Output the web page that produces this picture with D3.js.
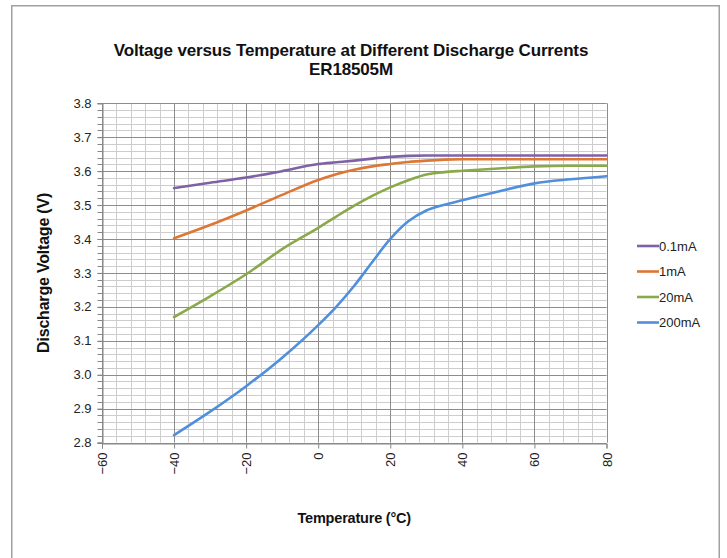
<!DOCTYPE html>
<html><head><meta charset="utf-8">
<script src="https://cdn.jsdelivr.net/npm/d3@7/dist/d3.min.js"></script>
<style>body{margin:0;background:#fff}svg{display:block}</style>
</head><body>
<script>
const titleLines = ["Voltage versus Temperature at Different Discharge Currents", "ER18505M"];
const xLabel = "Temperature (°C)";
const yLabel = "Discharge Voltage (V)";
const temps = [-40, -30, -20, -10, 0, 5, 10, 15, 20, 25, 30, 35, 40, 50, 60, 70, 80];
const seriesNames = ["0.1mA", "1mA", "20mA", "200mA"];
const v01  = [3.550, 3.566, 3.581, 3.600, 3.621, 3.626, 3.631, 3.637, 3.642, 3.645, 3.646, 3.646, 3.646, 3.646, 3.646, 3.646, 3.646];
const v1   = [3.402, 3.441, 3.484, 3.530, 3.574, 3.591, 3.604, 3.614, 3.621, 3.627, 3.631, 3.634, 3.635, 3.635, 3.635, 3.635, 3.635];
const v20  = [3.170, 3.231, 3.296, 3.370, 3.433, 3.466, 3.498, 3.527, 3.552, 3.573, 3.590, 3.597, 3.601, 3.608, 3.614, 3.616, 3.616];
const v200 = [2.822, 2.891, 2.966, 3.050, 3.146, 3.200, 3.262, 3.332, 3.400, 3.452, 3.484, 3.501, 3.514, 3.540, 3.564, 3.576, 3.585];
const xTicks = [-60, -40, -20, 0, 20, 40, 60, 80];
const yTicks = [2.8, 2.9, 3.0, 3.1, 3.2, 3.3, 3.4, 3.5, 3.6, 3.7, 3.8];
const colors = ["#7f62a6", "#dd7734", "#8aaa4a", "#4f8fdb"];

const W = 727, H = 558;
const svg = d3.select("body").append("svg").attr("width", W).attr("height", H);
const font = "'Liberation Sans', Arial, sans-serif";

svg.append("rect").attr("x", 11.75).attr("y", 5.75).attr("width", 707.5).attr("height", 560)
  .attr("fill", "#fff").attr("stroke", "#a0a0a0").attr("stroke-width", 1.5);

const x = d3.scaleLinear().domain([-60, 80]).range([102, 606.5]);
const y = d3.scaleLinear().domain([2.8, 3.8]).range([442.5, 103.3]);

const g = svg.append("g");
const xMinor = d3.range(-60, 80.001, 4);
const yMinor = d3.range(0, 51).map(i => 2.8 + i * 0.02);
g.append("g").selectAll("line").data(xMinor).join("line")
  .attr("x1", d => Math.round(x(d)) + 0.5).attr("x2", d => Math.round(x(d)) + 0.5)
  .attr("y1", y(3.8)).attr("y2", y(2.8)).attr("stroke", "#cdcdcd").attr("stroke-width", 1);
g.append("g").selectAll("line").data(yMinor).join("line")
  .attr("y1", d => Math.round(y(d)) + 0.5).attr("y2", d => Math.round(y(d)) + 0.5)
  .attr("x1", x(-60)).attr("x2", x(80)).attr("stroke", "#cdcdcd").attr("stroke-width", 1);
g.append("g").selectAll("line").data(xTicks).join("line")
  .attr("x1", d => Math.round(x(d)) + 0.5).attr("x2", d => Math.round(x(d)) + 0.5)
  .attr("y1", y(3.8)).attr("y2", y(2.8)).attr("stroke", "#8c8c8c").attr("stroke-width", 1);
g.append("g").selectAll("line").data(yTicks).join("line")
  .attr("y1", d => Math.round(y(d)) + 0.5).attr("y2", d => Math.round(y(d)) + 0.5)
  .attr("x1", x(-60)).attr("x2", x(80)).attr("stroke", "#8c8c8c").attr("stroke-width", 1);

const yAxis = svg.append("g").attr("transform", `translate(${Math.round(x(-60)) + 0.5},0)`)
  .call(d3.axisLeft(y).tickValues(yTicks).tickFormat(d3.format(".1f")).tickSize(5).tickPadding(6));
yAxis.append("g").selectAll("line").data(yMinor).join("line")
  .attr("x1", -5).attr("x2", 0).attr("y1", d => Math.round(y(d)) + 0.5).attr("y2", d => Math.round(y(d)) + 0.5)
  .attr("stroke", "#868686");
yAxis.selectAll(".domain").attr("stroke", "#868686");
yAxis.selectAll(".tick line").attr("stroke", "#868686");
yAxis.selectAll(".tick text").attr("font-family", font).attr("font-size", 13).attr("fill", "#222");

const xAxis = svg.append("g").attr("transform", `translate(0,${Math.round(y(2.8)) + 0.5})`)
  .call(d3.axisBottom(x).tickValues(xTicks).tickSize(5).tickFormat(d3.format("d")));
xAxis.selectAll(".domain").attr("stroke", "#868686");
xAxis.selectAll(".tick line").attr("stroke", "#868686");
xAxis.selectAll(".tick text").attr("font-family", font).attr("font-size", 13).attr("fill", "#222")
  .attr("transform", "rotate(-90)").attr("text-anchor", "end").attr("x", -9).attr("y", 0).attr("dy", "0.35em");

const allSeries = [v01, v1, v20, v200];
const line = d3.line().x((d, i) => x(temps[i])).y(d => y(d)).curve(d3.curveMonotoneX);
svg.append("g").selectAll("path").data(allSeries).join("path")
  .attr("d", d => line(d)).attr("fill", "none")
  .attr("stroke", (d, i) => colors[i]).attr("stroke-width", 2.6).attr("stroke-linecap", "round");

svg.append("g").selectAll("text").data(titleLines).join("text")
  .attr("x", 351).attr("y", (d, i) => 56 + i * 19).attr("text-anchor", "middle")
  .attr("font-family", font).attr("font-weight", "bold").attr("font-size", 17)
  .attr("fill", "#111").attr("letter-spacing", -0.15).text(d => d);

svg.append("text").attr("transform", `translate(49,${(y(3.8) + y(2.8)) / 2}) rotate(-90)`)
  .attr("text-anchor", "middle").attr("font-family", font).attr("font-weight", "bold").attr("font-size", 16)
  .attr("fill", "#111").attr("letter-spacing", -0.2).text(yLabel);
svg.append("text").attr("x", (x(-60) + x(80)) / 2).attr("y", 523)
  .attr("text-anchor", "middle").attr("font-family", font).attr("font-weight", "bold").attr("font-size", 14.5)
  .attr("fill", "#111").attr("letter-spacing", -0.2).text(xLabel);

const leg = svg.append("g").selectAll("g").data(seriesNames).join("g")
  .attr("transform", (d, i) => `translate(637,${246 + i * 25.5})`);
leg.append("line").attr("x1", 0).attr("x2", 22).attr("stroke", (d, i) => colors[i]).attr("stroke-width", 2.6);
leg.append("text").attr("x", 22).attr("dy", "0.35em").attr("font-family", font).attr("font-size", 13)
  .attr("fill", "#222").text(d => d);
</script>
</body></html>
